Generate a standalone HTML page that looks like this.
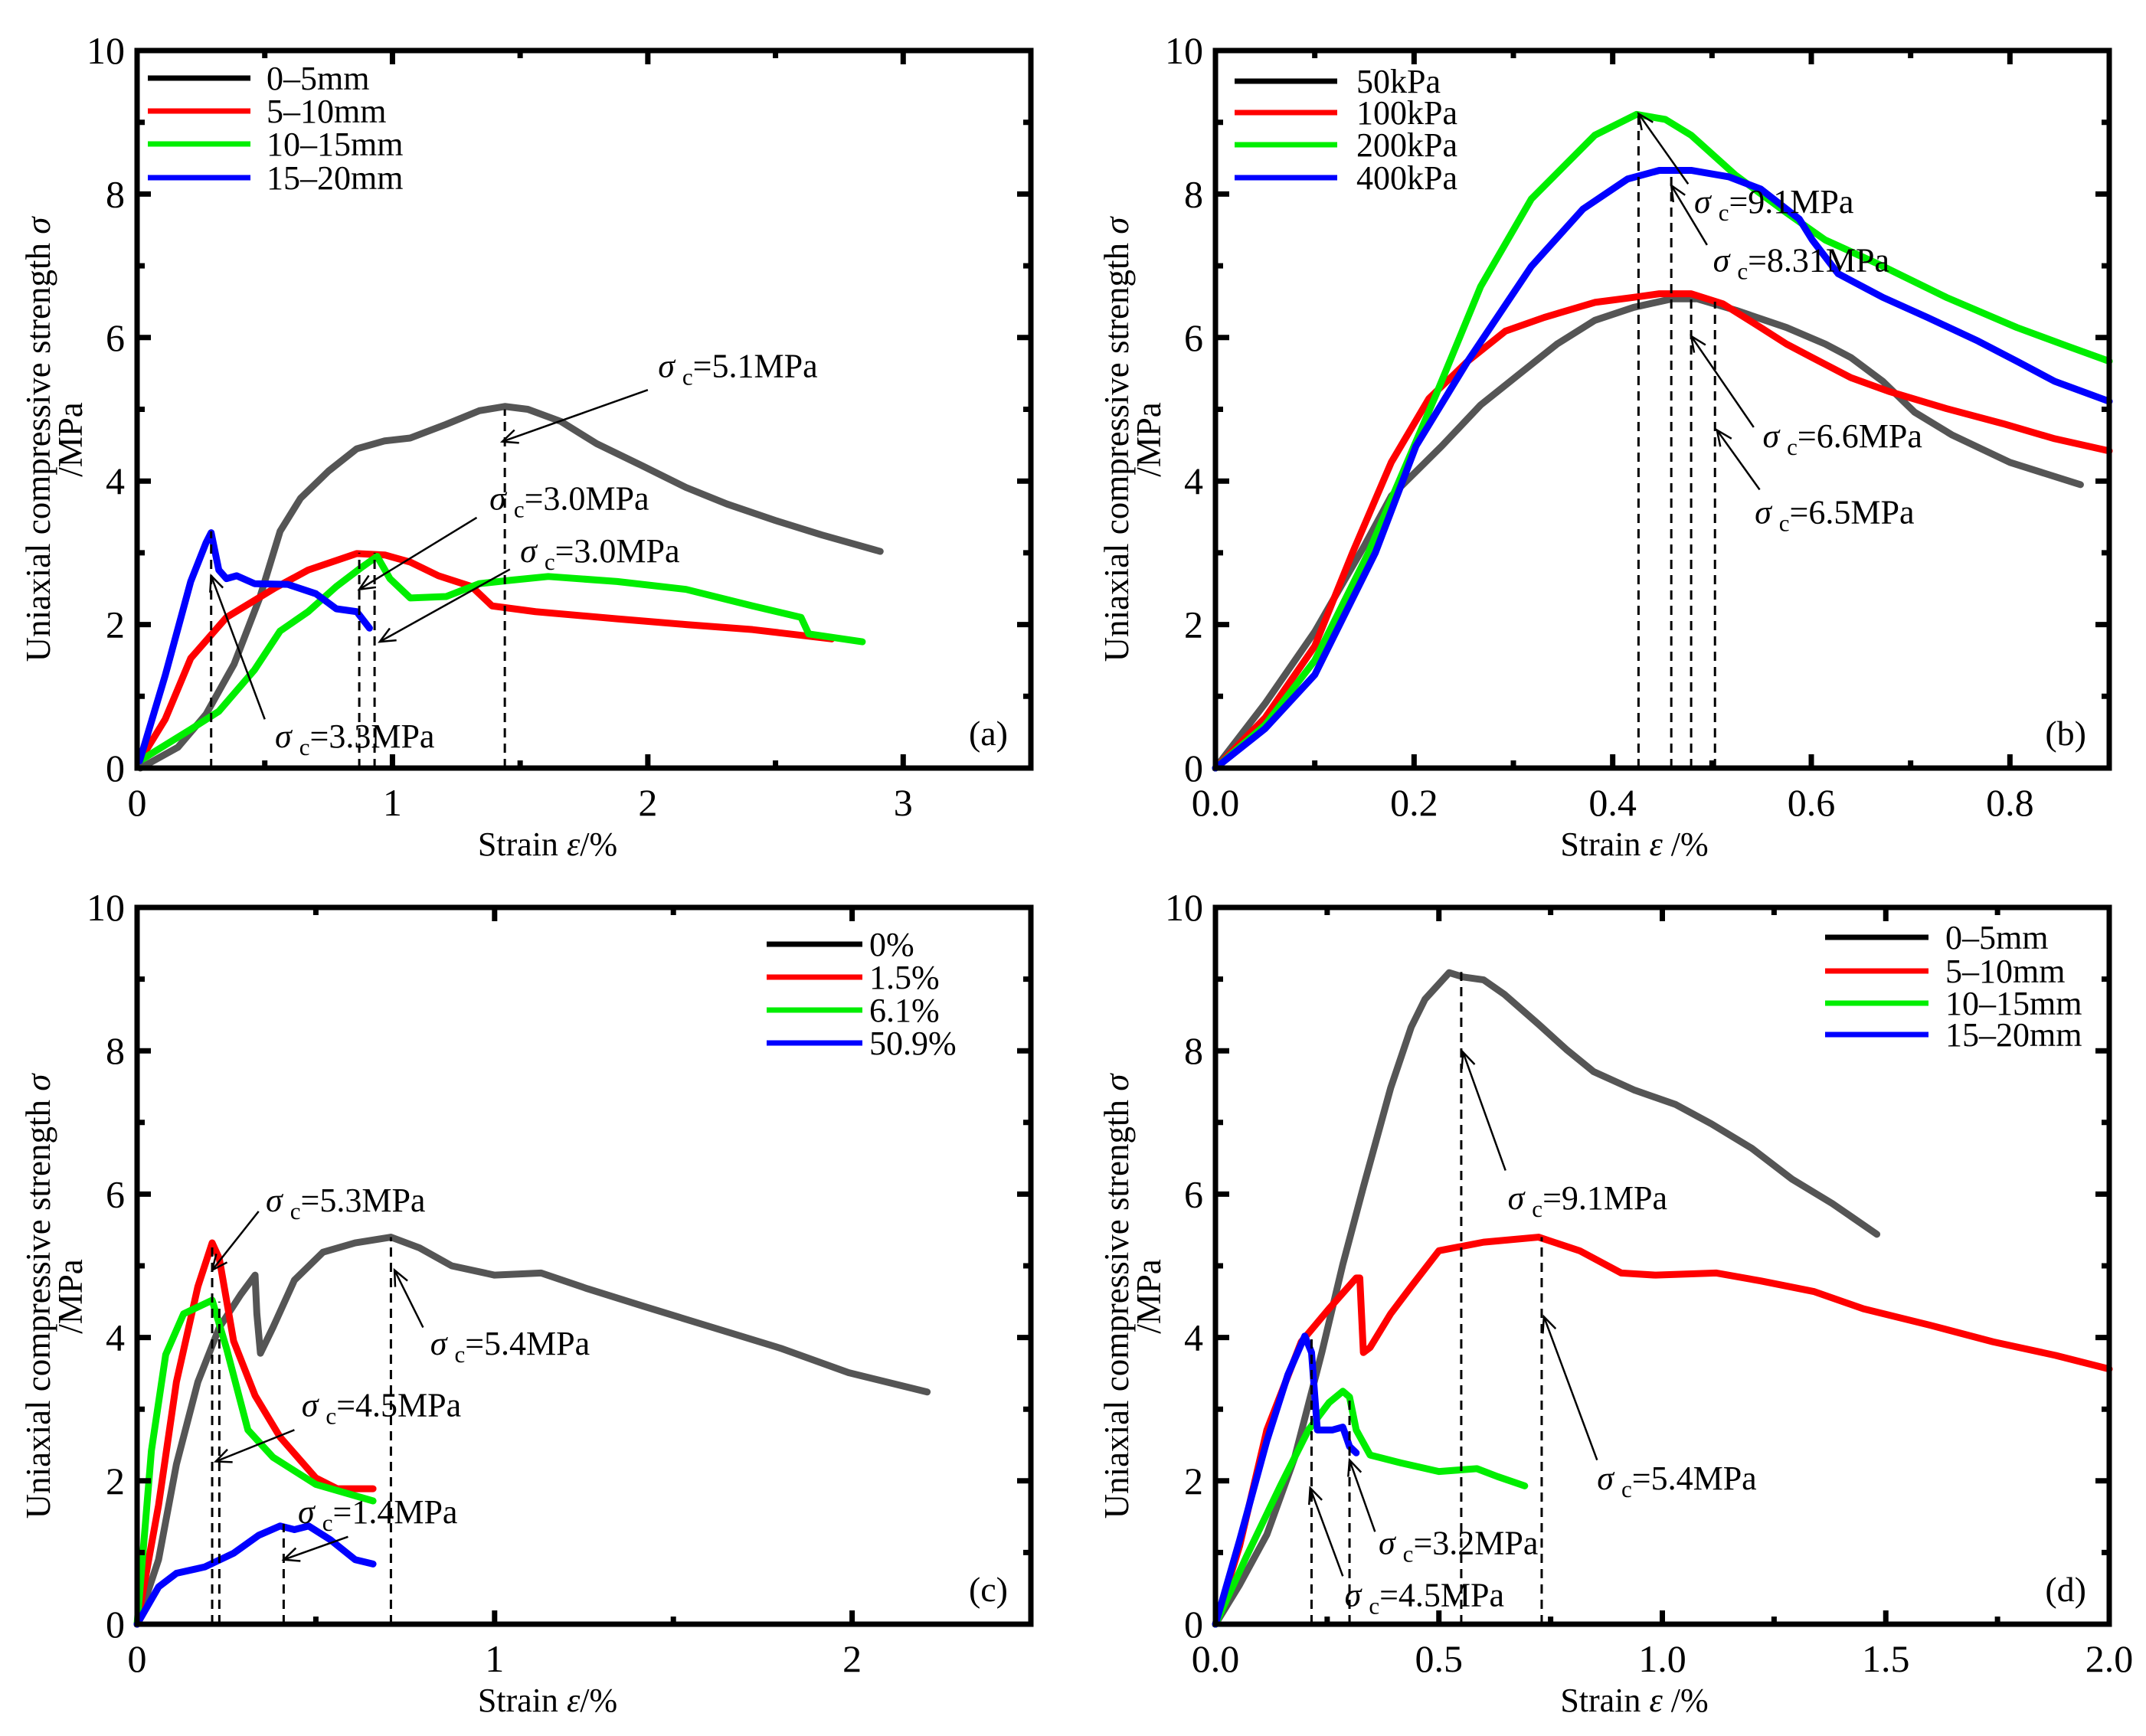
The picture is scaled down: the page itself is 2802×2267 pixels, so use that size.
<!DOCTYPE html>
<html><head><meta charset="utf-8"><style>
html,body{margin:0;padding:0;background:#fff;}
svg{display:block;font-family:"Liberation Serif",serif;}
</style></head><body>
<svg id="fig" width="2802" height="2267" viewBox="0 0 2802 2267" xmlns="http://www.w3.org/2000/svg"></svg>
<script>
// ---- panel (a) data: particle size ----
const aLegend = ["0–5mm","5–10mm","10–15mm","15–20mm"];
const aXTicks = ["0","1","2","3"];
const aGray = [[0.013,0],[0.16,0.29],[0.27,0.75],[0.38,1.45],[0.48,2.37],[0.56,3.3],[0.64,3.76],[0.75,4.14],[0.86,4.45],[0.97,4.56],[1.07,4.6],[1.21,4.79],[1.34,4.98],[1.44,5.04],[1.53,5.0],[1.66,4.83],[1.8,4.52],[1.98,4.21],[2.15,3.91],[2.31,3.68],[2.5,3.45],[2.68,3.25],[2.91,3.02]];
const aRed = [[0.01,0.1],[0.11,0.68],[0.21,1.53],[0.35,2.1],[0.54,2.51],[0.67,2.76],[0.86,2.99],[0.97,2.97],[1.07,2.87],[1.18,2.68],[1.31,2.53],[1.39,2.26],[1.56,2.18],[1.88,2.08],[2.15,2.0],[2.41,1.93],[2.72,1.8]];
const aGreen = [[0.01,0.1],[0.21,0.54],[0.32,0.79],[0.46,1.37],[0.56,1.91],[0.67,2.18],[0.78,2.53],[0.88,2.8],[0.94,2.95],[0.99,2.64],[1.07,2.37],[1.21,2.39],[1.34,2.57],[1.47,2.62],[1.61,2.67],[1.88,2.6],[2.15,2.49],[2.41,2.26],[2.6,2.1],[2.63,1.87],[2.84,1.76]];
const aBlue = [[0.01,0.1],[0.11,1.29],[0.21,2.6],[0.27,3.14],[0.29,3.28],[0.32,2.76],[0.35,2.64],[0.39,2.68],[0.46,2.57],[0.59,2.56],[0.7,2.43],[0.78,2.22],[0.86,2.18],[0.91,1.95]];
const aPeaks = [[0.29,3.3],[0.87,3.0],[0.93,3.0],[1.44,5.0]];
const aLabels = ["5.1","3.0","3.0","3.3"];
const aLabelPos = [[2.04,5.45],[1.38,3.6],[1.5,2.87],[0.54,0.29]];
const aArrows = [[2.0,5.27,1.43,4.55],[1.33,3.49,0.87,2.49],[1.46,2.77,0.95,1.76],[0.5,0.68,0.29,2.68]];

// ---- panel (b) data: confining pressure ----
const bLegend = ["50kPa","100kPa","200kPa","400kPa"];
const bXTicks = ["0.0","0.2","0.4","0.6","0.8"];
const bGray = [[0,0],[0.05,0.9],[0.1,1.9],[0.15,3.1],[0.177,3.79],[0.228,4.49],[0.267,5.06],[0.305,5.48],[0.344,5.91],[0.382,6.24],[0.421,6.42],[0.46,6.54],[0.485,6.54],[0.524,6.38],[0.575,6.14],[0.614,5.91],[0.64,5.72],[0.672,5.39],[0.704,4.96],[0.742,4.64],[0.8,4.26],[0.871,3.95]];
const bRed = [[0,0],[0.05,0.7],[0.1,1.7],[0.138,3.0],[0.177,4.26],[0.215,5.15],[0.254,5.67],[0.292,6.09],[0.331,6.28],[0.382,6.49],[0.421,6.56],[0.447,6.61],[0.479,6.61],[0.511,6.47],[0.549,6.14],[0.575,5.91],[0.601,5.72],[0.64,5.44],[0.678,5.25],[0.736,5.01],[0.793,4.8],[0.845,4.59],[0.9,4.42]];
const bGreen = [[0,0],[0.05,0.6],[0.1,1.5],[0.154,3.0],[0.222,5.2],[0.267,6.71],[0.318,7.93],[0.382,8.82],[0.424,9.11],[0.453,9.04],[0.479,8.82],[0.524,8.26],[0.575,7.74],[0.614,7.36],[0.665,7.04],[0.736,6.56],[0.807,6.14],[0.858,5.88],[0.9,5.67]];
const bBlue = [[0,0],[0.05,0.55],[0.1,1.3],[0.161,3.0],[0.202,4.49],[0.254,5.67],[0.318,6.99],[0.37,7.79],[0.415,8.21],[0.447,8.33],[0.479,8.33],[0.517,8.24],[0.549,8.07],[0.588,7.65],[0.601,7.36],[0.627,6.89],[0.672,6.56],[0.717,6.28],[0.768,5.95],[0.807,5.67],[0.845,5.39],[0.9,5.11]];
const bPeaks = [[0.426,9.1],[0.459,8.31],[0.479,6.6],[0.503,6.5]];
const bLabels = ["9.1","8.31","6.6","6.5"];
const bLabelPos = [[0.482,7.74],[0.501,6.92],[0.551,4.47],[0.543,3.41]];
const bArrows = [[0.476,8.14,0.426,9.12],[0.495,7.29,0.459,8.12],[0.542,4.75,0.479,6.02],[0.548,3.88,0.505,4.71]];

// ---- panel (c) data: content ----
const cLegend = ["0%","1.5%","6.1%","50.9%"];
const cXTicks = ["0","1","2"];
const cGray = [[0,0],[0.06,0.9],[0.11,2.23],[0.17,3.38],[0.23,4.14],[0.29,4.6],[0.33,4.87],[0.335,4.33],[0.345,3.78],[0.38,4.14],[0.44,4.8],[0.52,5.19],[0.61,5.32],[0.71,5.4],[0.79,5.25],[0.88,5.0],[1.0,4.87],[1.13,4.9],[1.26,4.68],[1.42,4.43],[1.61,4.14],[1.8,3.85],[1.99,3.51],[2.21,3.24]];
const cRed = [[0,0],[0.06,1.66],[0.11,3.38],[0.17,4.71],[0.21,5.32],[0.23,5.1],[0.27,3.95],[0.33,3.19],[0.4,2.61],[0.5,2.04],[0.56,1.89],[0.66,1.89]];
const cGreen = [[0,0],[0.04,2.42],[0.08,3.76],[0.13,4.33],[0.21,4.52],[0.25,3.85],[0.31,2.71],[0.38,2.33],[0.5,1.95],[0.66,1.72]];
const cBlue = [[0,0],[0.06,0.52],[0.11,0.71],[0.19,0.8],[0.27,0.99],[0.34,1.24],[0.4,1.37],[0.44,1.32],[0.48,1.37],[0.54,1.18],[0.61,0.9],[0.66,0.84]];
const cPeaks = [[0.21,5.3],[0.23,4.5],[0.41,1.4],[0.71,5.4]];
const cLabels = ["5.3","5.4","4.5","1.4"];
const cLabelPos = [[0.36,5.76],[0.82,3.76],[0.46,2.9],[0.45,1.41]];
const cArrows = [[0.34,5.76,0.21,4.94],[0.8,4.14,0.72,4.94],[0.44,2.71,0.22,2.27],[0.59,1.22,0.41,0.9]];

// ---- panel (d) data ----
const dLegend = ["0–5mm","5–10mm","10–15mm","15–20mm"];
const dXTicks = ["0.0","0.5","1.0","1.5","2.0"];
const dGray = [[0,0],[0.054,0.55],[0.115,1.25],[0.177,2.32],[0.238,3.79],[0.285,5.02],[0.331,6.1],[0.392,7.48],[0.438,8.33],[0.469,8.72],[0.523,9.09],[0.554,9.03],[0.6,8.99],[0.646,8.79],[0.723,8.37],[0.785,8.02],[0.846,7.71],[0.938,7.45],[1.03,7.25],[1.11,6.98],[1.2,6.64],[1.29,6.21],[1.38,5.87],[1.48,5.44]];
const dRed = [[0,0],[0.054,1.09],[0.115,2.71],[0.192,3.94],[0.254,4.4],[0.315,4.83],[0.323,4.83],[0.331,3.79],[0.346,3.86],[0.392,4.33],[0.438,4.71],[0.5,5.21],[0.6,5.33],[0.723,5.4],[0.815,5.21],[0.908,4.9],[0.985,4.87],[1.12,4.9],[1.22,4.79],[1.34,4.64],[1.45,4.4],[1.6,4.17],[1.74,3.94],[1.88,3.75],[2.0,3.56]];
const dGreen = [[0,0],[0.069,0.94],[0.146,1.94],[0.208,2.71],[0.254,3.09],[0.285,3.25],[0.3,3.17],[0.315,2.71],[0.346,2.36],[0.415,2.25],[0.5,2.13],[0.585,2.17],[0.631,2.06],[0.692,1.93]];
const dBlue = [[0,0],[0.054,1.17],[0.115,2.56],[0.162,3.48],[0.2,4.02],[0.215,3.79],[0.228,2.71],[0.262,2.71],[0.285,2.75],[0.3,2.48],[0.315,2.39]];
const dPeaks = [[0.215,4.0],[0.3,3.2],[0.55,9.1],[0.73,5.4]];
const dLabels = ["9.1","5.4","3.2","4.5"];
const dLabelPos = [[0.654,5.79],[0.854,1.88],[0.365,0.98],[0.289,0.25]];
const dArrows = [[0.649,6.33,0.554,7.98],[0.854,2.29,0.735,4.29],[0.357,1.29,0.3,2.29],[0.285,0.67,0.212,1.9]];

const yTicks = ["0","2","4","6","8","10"];
const colors = ["#555555","#ff0000","#00ee00","#0000ff"];
const NS = "http://www.w3.org/2000/svg";
const svg = document.getElementById("fig");

function mk(tag, attrs, parent){
  const e = document.createElementNS(NS, tag);
  for (const k in attrs) e.setAttribute(k, attrs[k]);
  (parent||svg).appendChild(e);
  return e;
}

function panel(p){
  const g = mk("g", {});
  
  
  const sx = v => p.L + v / p.xmax * (p.R - p.L);
  const sy = v => p.B - v / 10 * (p.B - p.T);
  p.series.forEach((s, i) => {
    const pl = mk("polyline", {points: s.map(d => sx(d[0]) + "," + sy(d[1])).join(" "), fill: "none", stroke: colors[i], "stroke-width": 9, "stroke-linejoin": "round", "stroke-linecap": "round"}, g);
    
    
  });
  p.peaks.forEach(pk => {
    const l = mk("line", {x1: sx(pk[0]), x2: sx(pk[0]), y1: sy(0), y2: sy(pk[1]), stroke: "#000", "stroke-width": 3, "stroke-dasharray": "12,8"}, g);
    
    
  });
  p.arrows.forEach(a => {
    const x1 = sx(a[0]), y1 = sy(a[1]), x2 = sx(a[2]), y2 = sy(a[3]);
    const l = mk("line", {x1: x1, y1: y1, x2: x2, y2: y2, stroke: "#000", "stroke-width": 2.5}, g);
    
    
    const ang = Math.atan2(y2 - y1, x2 - x1), h = 22, w = 0.42;
    const hp = [[x2 - h * Math.cos(ang - w), y2 - h * Math.sin(ang - w)], [x2, y2], [x2 - h * Math.cos(ang + w), y2 - h * Math.sin(ang + w)]];
    const hd = mk("polyline", {points: hp.map(q => q.join(",")).join(" "), fill: "none", stroke: "#000", "stroke-width": 2.5}, g);
    
    
  });
  p.labels.forEach((lab, i) => {
    const t = mk("text", {x: sx(p.labelPos[i][0]), y: sy(p.labelPos[i][1]), "font-size": 44}, g);
    
    
    t.innerHTML = '<tspan font-style="italic">σ</tspan><tspan font-size="31" dx="10" dy="10">c</tspan><tspan dy="-10">=' + lab + 'MPa</tspan>';
  });
  const fr = mk("rect", {x: p.L, y: p.T, width: p.R - p.L, height: p.B - p.T, fill: "none", stroke: "#000", "stroke-width": 7}, g);
  
  
  let td = "";
  for (let v = 0; v <= 10.001; v += 1) {
    const len = (Math.round(v) % 2 === 0) ? 18 : 10, y = sy(v);
    td += `M${p.L},${y}h${len}M${p.R},${y}h${-len}`;
  }
  for (let k = 0; k * p.xMinor <= p.xmax + 1e-6; k++) {
    const v = k * p.xMinor, len = (k % 2 === 0) ? 18 : 10, x = sx(v);
    td += `M${x},${p.B}v${-len}M${x},${p.T}v${len}`;
  }
  const tk = mk("path", {d: td, stroke: "#000", "stroke-width": 7, fill: "none"}, g);
  
  
  yTicks.forEach((lab, i) => {
    const t = mk("text", {x: p.L - 16, y: sy(i * 2) + 17, "font-size": 50, "text-anchor": "end"}, g);
    
    
    t.textContent = lab;
  });
  p.xTicks.forEach((lab, i) => {
    const t = mk("text", {x: sx(i * p.xMinor * 2), y: p.B + 62, "font-size": 50, "text-anchor": "middle"}, g);
    
    
    t.textContent = lab;
  });
  const xt = mk("text", {x: p.xTitleX, y: p.B + 114, "font-size": 44, "text-anchor": "middle"}, g);
  
  
  xt.innerHTML = 'Strain <tspan font-style="italic">ε</tspan>' + p.xSep + '/%';
  const cy = p.T + 508;
  const yt = mk("text", {x: 0, y: 0, "font-size": 45, "text-anchor": "middle", transform: `translate(${p.L - 114},${cy}) rotate(-90)`}, g);
  
  
  yt.innerHTML = 'Uniaxial compressive strength <tspan font-style="italic">σ</tspan>';
  const yt2 = mk("text", {x: 0, y: 0, "font-size": 45, "text-anchor": "middle", transform: `translate(${p.L - 72},${cy}) rotate(-90)`}, g);
  
  
  yt2.textContent = '/MPa';
  const pt = mk("text", {x: p.R - 30, y: p.B - 30, "font-size": 46, "text-anchor": "end"}, g);
  
  
  pt.textContent = '(' + p.id + ')';
  p.legend.forEach((lab, i) => {
    const y = p.legRows[i];
    const ll = mk("line", {x1: p.legX1, x2: p.legX2, y1: y, y2: y, stroke: i === 0 ? "#000" : colors[i], "stroke-width": 7}, g);
    
    
    const lt = mk("text", {x: p.legTx, y: y + 15, "font-size": 44}, g);
    
    
    lt.textContent = lab;
  });
}

panel({id: "a", L: 179, R: 1346, T: 66, B: 1003, xmax: 3.5, xMinor: 0.5, xTicks: aXTicks, xTitleX: 715, xSep: "",
  series: [aGray, aRed, aGreen, aBlue], peaks: aPeaks, labels: aLabels, labelPos: aLabelPos, arrows: aArrows,
  legend: aLegend, legX1: 193, legX2: 327, legTx: 348, legRows: [102, 145, 188, 232]});
panel({id: "b", L: 1587, R: 2754, T: 66, B: 1003, xmax: 0.9, xMinor: 0.1, xTicks: bXTicks, xTitleX: 2134, xSep: " ",
  series: [bGray, bRed, bGreen, bBlue], peaks: bPeaks, labels: bLabels, labelPos: bLabelPos, arrows: bArrows,
  legend: bLegend, legX1: 1612, legX2: 1746, legTx: 1771, legRows: [106, 147, 189, 232]});
panel({id: "c", L: 179, R: 1346, T: 1185, B: 2121, xmax: 2.5, xMinor: 0.5, xTicks: cXTicks, xTitleX: 715, xSep: "",
  series: [cGray, cRed, cGreen, cBlue], peaks: cPeaks, labels: cLabels, labelPos: cLabelPos, arrows: cArrows,
  legend: cLegend, legX1: 1001, legX2: 1126, legTx: 1135, legRows: [1233, 1276, 1319, 1362]});
panel({id: "d", L: 1587, R: 2754, T: 1185, B: 2121, xmax: 2.0, xMinor: 0.25, xTicks: dXTicks, xTitleX: 2134, xSep: " ",
  series: [dGray, dRed, dGreen, dBlue], peaks: dPeaks, labels: dLabels, labelPos: dLabelPos, arrows: dArrows,
  legend: dLegend, legX1: 2383, legX2: 2518, legTx: 2540, legRows: [1224, 1268, 1310, 1351]});
</script>
</body></html>
